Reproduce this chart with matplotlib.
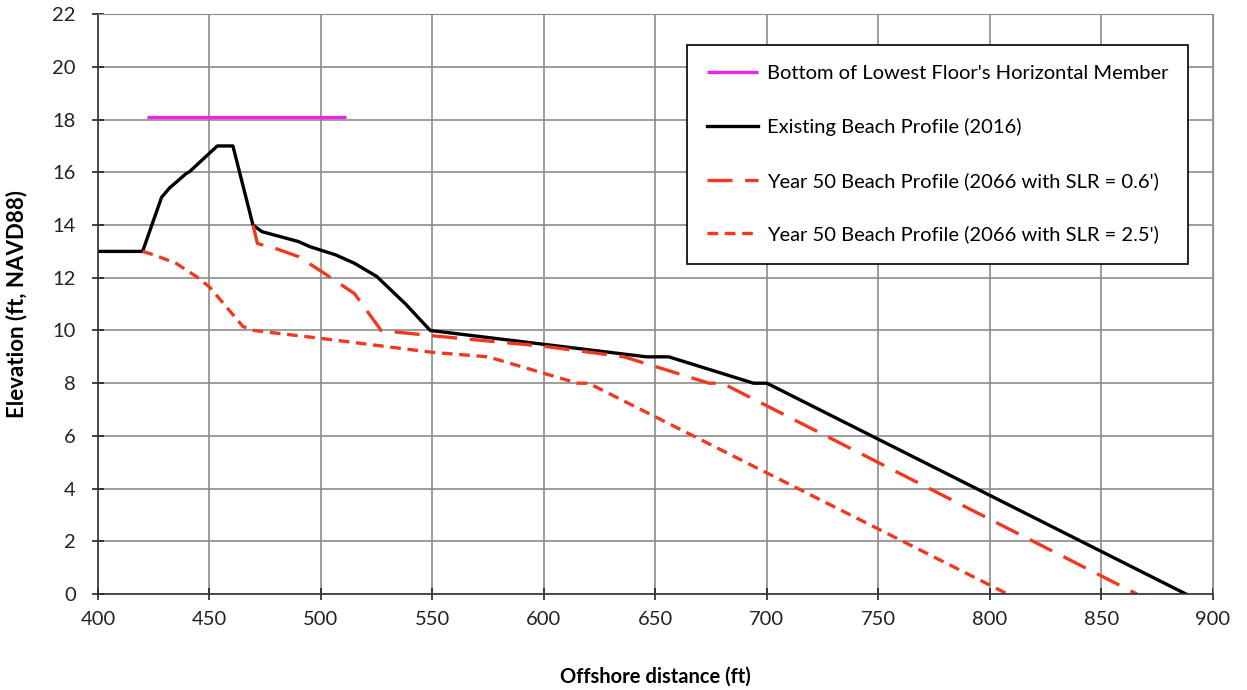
import matplotlib.pyplot as plt

plt.rcParams['font.family'] = ['Lato', 'DejaVu Sans']

# bottom of lowest floor's horizontal member
floor_x = [422, 511]
floor_y = [18.1, 18.1]

# existing beach profile (2016)
exist_x = [400, 420, 428.5, 432, 439.5, 441, 453.5, 460.5, 469.5, 473.5, 490, 495, 506.5, 515, 525, 538, 549, 646, 656, 694, 700, 888]
exist_y = [13, 13, 15.05, 15.4, 15.95, 16.02, 17, 17, 14, 13.75, 13.37, 13.18, 12.87, 12.55, 12.05, 11.0, 10.0, 9.0, 9.0, 8.0, 8.0, 0]

# year 50, SLR = 0.6'
slr06_x = [469.5, 471.5, 480, 490, 500, 515, 527, 550, 600, 636, 674, 680, 866]
slr06_y = [14, 13.3, 13.1, 12.8, 12.25, 11.4, 10.0, 9.8, 9.4, 9.0, 8.0, 8.0, 0]

# year 50, SLR = 2.5'
slr25_x = [420, 425, 435, 444, 450, 456, 465, 470, 500, 550, 575, 615, 620, 808]
slr25_y = [13, 12.87, 12.55, 12.05, 11.65, 11.05, 10.15, 10.0, 9.7, 9.17, 9.0, 8.0, 8.0, 0]

red = '#f0391f'

fig = plt.figure(figsize=(12.47, 6.9), dpi=100)
ax = fig.add_axes([0.0786, 0.139, 0.894, 0.8405])

ax.plot(floor_x, floor_y, color='#ee22ee', lw=2.4, solid_capstyle='butt',
        label="Bottom of Lowest Floor's Horizontal Member")
ax.plot(exist_x, exist_y, color='black', lw=2.4, label='Existing Beach Profile (2016)')
ax.plot(slr06_x, slr06_y, color=red, lw=2.4, ls=(0, (7.5, 3.8)),
        label="Year 50 Beach Profile (2066 with SLR = 0.6')")
ax.plot(slr25_x, slr25_y, color=red, lw=2.4, ls=(0, (3.2, 2.0)),
        label="Year 50 Beach Profile (2066 with SLR = 2.5')")

ax.set_xlim(400, 900)
ax.set_ylim(0, 22)
ax.set_xticks(range(400, 901, 50))
ax.set_yticks(range(0, 23, 2))
ax.grid(True, color='#8c8c8c', lw=1.2)
ax.set_axisbelow(True)
ax.tick_params(direction='inout', length=8, width=1.2, labelsize=14.5, colors='#222222')
ax.tick_params(axis='x', pad=8)
ax.tick_params(axis='y', pad=12)
for s in ['top', 'right']:
    ax.spines[s].set_color('#8c8c8c')
for s in ['left', 'bottom']:
    ax.spines[s].set_color('#333333')
    ax.spines[s].set_linewidth(1.2)

ax.set_xlabel('Offshore distance (ft)', fontsize=14.5, fontweight='bold', labelpad=28)
ax.set_ylabel('Elevation (ft, NAVD88)', fontsize=16, fontweight='bold', labelpad=18)

leg = ax.legend(loc='upper right', bbox_to_anchor=(0.978, 0.947), fontsize=14.5,
                frameon=True, fancybox=False, edgecolor='black', framealpha=1,
                labelspacing=1.78, handlelength=2.5, handletextpad=0.45,
                borderpad=1.0, borderaxespad=0)
leg.get_frame().set_linewidth(1.2)

fig.savefig('out.png', dpi=100)
